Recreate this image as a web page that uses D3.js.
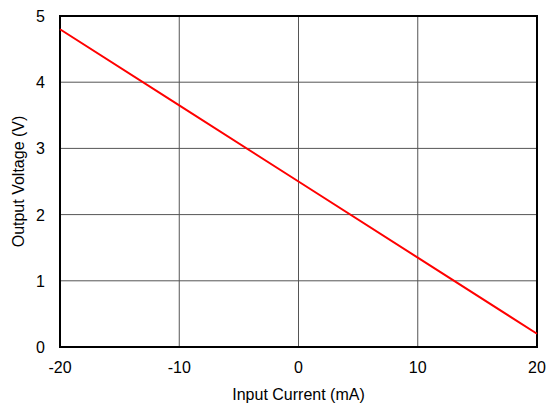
<!DOCTYPE html>
<html>
<head>
<meta charset="utf-8">
<script src="https://d3js.org/d3.v7.min.js"></script>
<style>
  body { margin: 0; background: #fff; }
  text { font-family: "Liberation Sans", Arial, sans-serif; }
</style>
</head>
<body>
<script>
// data
var current = [-20, -10, 0, 10, 20];
var voltage = [4.8, 3.65, 2.5, 1.35, 0.2];
var xTicks = [-20, -10, 0, 10, 20];
var yTicks = [0, 1, 2, 3, 4, 5];

var W = 547, H = 407;
var plotL = 60, plotR = 537, plotT = 16, plotB = 347;

var svg = d3.select("body").append("svg")
    .attr("width", W)
    .attr("height", H);

var x = d3.scaleLinear().domain([-20, 20]).range([plotL, plotR]);
var y = d3.scaleLinear().domain([0, 5]).range([plotB, plotT]);

// grid
svg.append("g").selectAll("line").data(xTicks).enter().append("line")
    .attr("x1", function(d){ return x(d); })
    .attr("x2", function(d){ return x(d); })
    .attr("y1", plotT).attr("y2", plotB)
    .attr("stroke", "#555").attr("stroke-width", 1);
svg.append("g").selectAll("line").data(yTicks).enter().append("line")
    .attr("x1", plotL).attr("x2", plotR)
    .attr("y1", function(d){ return y(d); })
    .attr("y2", function(d){ return y(d); })
    .attr("stroke", "#555").attr("stroke-width", 1);

// frame
svg.append("rect")
    .attr("x", plotL).attr("y", plotT)
    .attr("width", plotR - plotL).attr("height", plotB - plotT)
    .attr("fill", "none").attr("stroke", "#000").attr("stroke-width", 2);

// tick labels
svg.append("g").selectAll("text").data(xTicks).enter().append("text")
    .attr("x", function(d){ return x(d); })
    .attr("y", plotB + 26)
    .attr("text-anchor", "middle")
    .attr("font-size", "16px")
    .text(function(d){ return d; });
svg.append("g").selectAll("text").data(yTicks).enter().append("text")
    .attr("x", plotL - 15)
    .attr("y", function(d){ return y(d) + 6; })
    .attr("text-anchor", "end")
    .attr("font-size", "16px")
    .text(function(d){ return d; });

// line
var line = d3.line()
    .x(function(d, i){ return x(current[i]); })
    .y(function(d){ return y(d); });
svg.append("path")
    .attr("d", line(voltage))
    .attr("fill", "none")
    .attr("stroke", "#ff0000")
    .attr("stroke-width", 2);

// axis titles
svg.append("text")
    .attr("x", (plotL + plotR) / 2)
    .attr("y", 400)
    .attr("text-anchor", "middle")
    .attr("font-size", "16px")
    .text("Input Current (mA)");
svg.append("text")
    .attr("transform", "translate(24," + ((plotT + plotB) / 2) + ") rotate(-90)")
    .attr("text-anchor", "middle")
    .attr("font-size", "16px")
    .text("Output Voltage (V)");
</script>
</body>
</html>
